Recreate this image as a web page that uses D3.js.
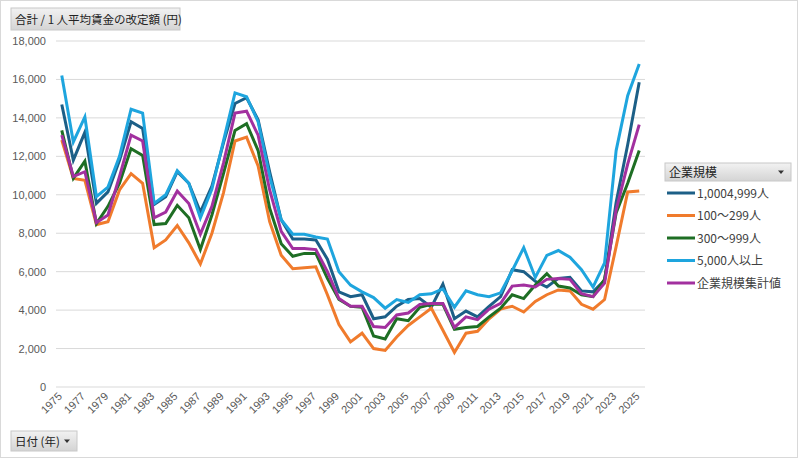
<!DOCTYPE html>
<html><head><meta charset="utf-8">
<script src="https://cdn.jsdelivr.net/npm/d3@7"></script>
<style>
html,body{margin:0;padding:0;background:#fff;}
svg{display:block;font-family:"Noto Sans CJK JP","Noto Sans",sans-serif;}
</style></head>
<body><svg id="c" width="798" height="458"></svg>
<script>
const years = d3.range(1975, 2026);
const yTicks = [0,2000,4000,6000,8000,10000,12000,14000,16000,18000];
const seriesNames = ["1,0004,999人","100〜299人","300〜999人","5,000人以上","企業規模集計値"];
const seriesColors = ["#1c5f87","#f07b2c","#1e6e24","#1ea5de","#a2309f"];

const s1000 = [14700,11800,13250,9550,10150,11800,13800,13450,9500,9900,11200,10600,9100,10450,12700,14750,15050,13900,11200,8700,7700,7700,7650,6650,4950,4700,4800,3550,3650,4200,4550,4600,4150,5350,3550,3950,3650,4200,4700,6100,6000,5500,5200,5650,5700,5000,4950,5550,9600,12600,15850];
const s100 = [12850,10850,10750,8450,8600,10250,11100,10600,7250,7650,8400,7500,6400,8000,10100,12800,13000,11500,8600,6850,6150,6200,6250,4800,3250,2350,2800,2000,1900,2600,3200,3650,4100,2950,1800,2800,2900,3550,4050,4200,3900,4450,4800,5050,5000,4300,4050,4550,7300,10150,10200];
const s300 = [13350,10850,11750,8500,9400,10600,12400,12050,8450,8500,9450,8800,7150,8950,11100,13350,13700,12300,9300,7450,6800,6950,6950,5650,4550,4200,4150,2650,2500,3550,3450,4150,4300,4300,3000,3100,3150,3650,4100,4800,4600,5300,5900,5250,5150,4800,4700,5600,9050,10600,12300];
const s5000 = [16200,12750,14050,9900,10400,12000,14450,14250,9550,10000,11250,10600,8800,10300,12800,15300,15100,13800,10950,8700,7950,7950,7800,7700,6000,5300,4950,4650,4100,4550,4400,4800,4850,5100,4150,5000,4800,4700,4900,6050,7250,5700,6850,7100,6750,6100,5200,6450,12300,15150,16800];
const sAll = [13100,10950,11200,8550,8950,10950,13100,12800,8800,9100,10200,9550,7950,9400,11650,14250,14350,13100,10250,8100,7200,7200,7150,6000,4600,4200,4200,3150,3100,3750,3850,4300,4350,4350,3100,3650,3500,4050,4350,5250,5300,5200,5600,5650,5600,4850,4700,5400,9200,11600,13650];
const seriesValues = [s1000, s100, s300, s5000, sAll];

const svg = d3.select("#c");
const defs = svg.append("defs");
const g1 = defs.append("linearGradient").attr("id","btn").attr("x1",0).attr("y1",0).attr("x2",0).attr("y2",1);
g1.append("stop").attr("offset","0%").attr("stop-color","#f2f2f2");
g1.append("stop").attr("offset","100%").attr("stop-color","#d4d4d4");

svg.append("rect").attr("x",0.5).attr("y",0.5).attr("width",797).attr("height",457)
  .attr("fill","#fff").attr("stroke","#d9d9d9");

const x = d3.scaleBand().domain(years).range([56, 645]);
const y = d3.scaleLinear().domain([0,18000]).range([387, 41]);

svg.append("g").selectAll("line").data(yTicks).join("line")
  .attr("x1",56).attr("x2",645)
  .attr("y1",d=>y(d)).attr("y2",d=>y(d))
  .attr("stroke","#d9d9d9").attr("stroke-width",1);

const yAxis = d3.axisLeft(y).tickValues(yTicks).tickFormat(d3.format(",")).tickSize(0).tickPadding(10);
const ya = svg.append("g").attr("transform","translate(56,0)").call(yAxis);
ya.select(".domain").remove();
ya.selectAll("text").attr("fill","#595959").style("font-size","11px")
  .style("font-family","'Liberation Sans','Noto Sans',sans-serif");

const xAxis = d3.axisBottom(x).tickValues(years.filter(d=>(d-1975)%2===0)).tickSize(0).tickPadding(0);
const xa = svg.append("g").attr("transform","translate(0,387)").call(xAxis);
xa.select(".domain").remove();
xa.selectAll("text").attr("fill","#595959").style("font-size","11px")
  .style("font-family","'Liberation Sans','Noto Sans',sans-serif")
  .attr("text-anchor","end").attr("dy",null).attr("y",0)
  .attr("transform","translate(1,10) rotate(-45)");

const line = d3.line().x((d,i)=>x(years[i])+x.bandwidth()/2).y(d=>y(d));
svg.append("g").selectAll("path").data(seriesValues).join("path")
  .attr("d",d=>line(d)).attr("fill","none")
  .attr("stroke",(d,i)=>seriesColors[i]).attr("stroke-width",3)
  .attr("stroke-linejoin","miter").attr("stroke-linecap","butt");

function button(xp, yp, w, h, label, arrow, fs){
  const b = svg.append("g");
  b.append("rect").attr("x",xp).attr("y",yp).attr("width",w).attr("height",h)
    .attr("fill","url(#btn)").attr("stroke","#c8c8c8");
  b.append("text").attr("x",xp+4).attr("y",yp+h/2+4.5).attr("fill","#222")
    .style("font-size",fs+"px").text(label);
  if(arrow){
    b.append("path").attr("d",`M${xp+w-13},${yp+h/2-1.5} l6,0 l-3,3.5 z`).attr("fill","#333");
  }
}
button(11, 8, 169, 22, "合計 / 1 人平均賃金の改定額 (円)", false, 11.5);
button(11, 431, 66, 20, "日付 (年)", true, 11.5);

button(665, 163, 126, 18, "企業規模", true, 12);
const lg = svg.append("g").selectAll("g").data(seriesNames).join("g")
  .attr("transform",(d,i)=>`translate(667,${193 + i*22.5})`);
lg.append("line").attr("x1",0).attr("x2",28).attr("y1",0).attr("y2",0)
  .attr("stroke",(d,i)=>seriesColors[i]).attr("stroke-width",3);
lg.append("text").attr("x",30).attr("y",4.5).attr("fill","#404040")
  .style("font-size","12px").text(d=>d);
</script></body></html>
